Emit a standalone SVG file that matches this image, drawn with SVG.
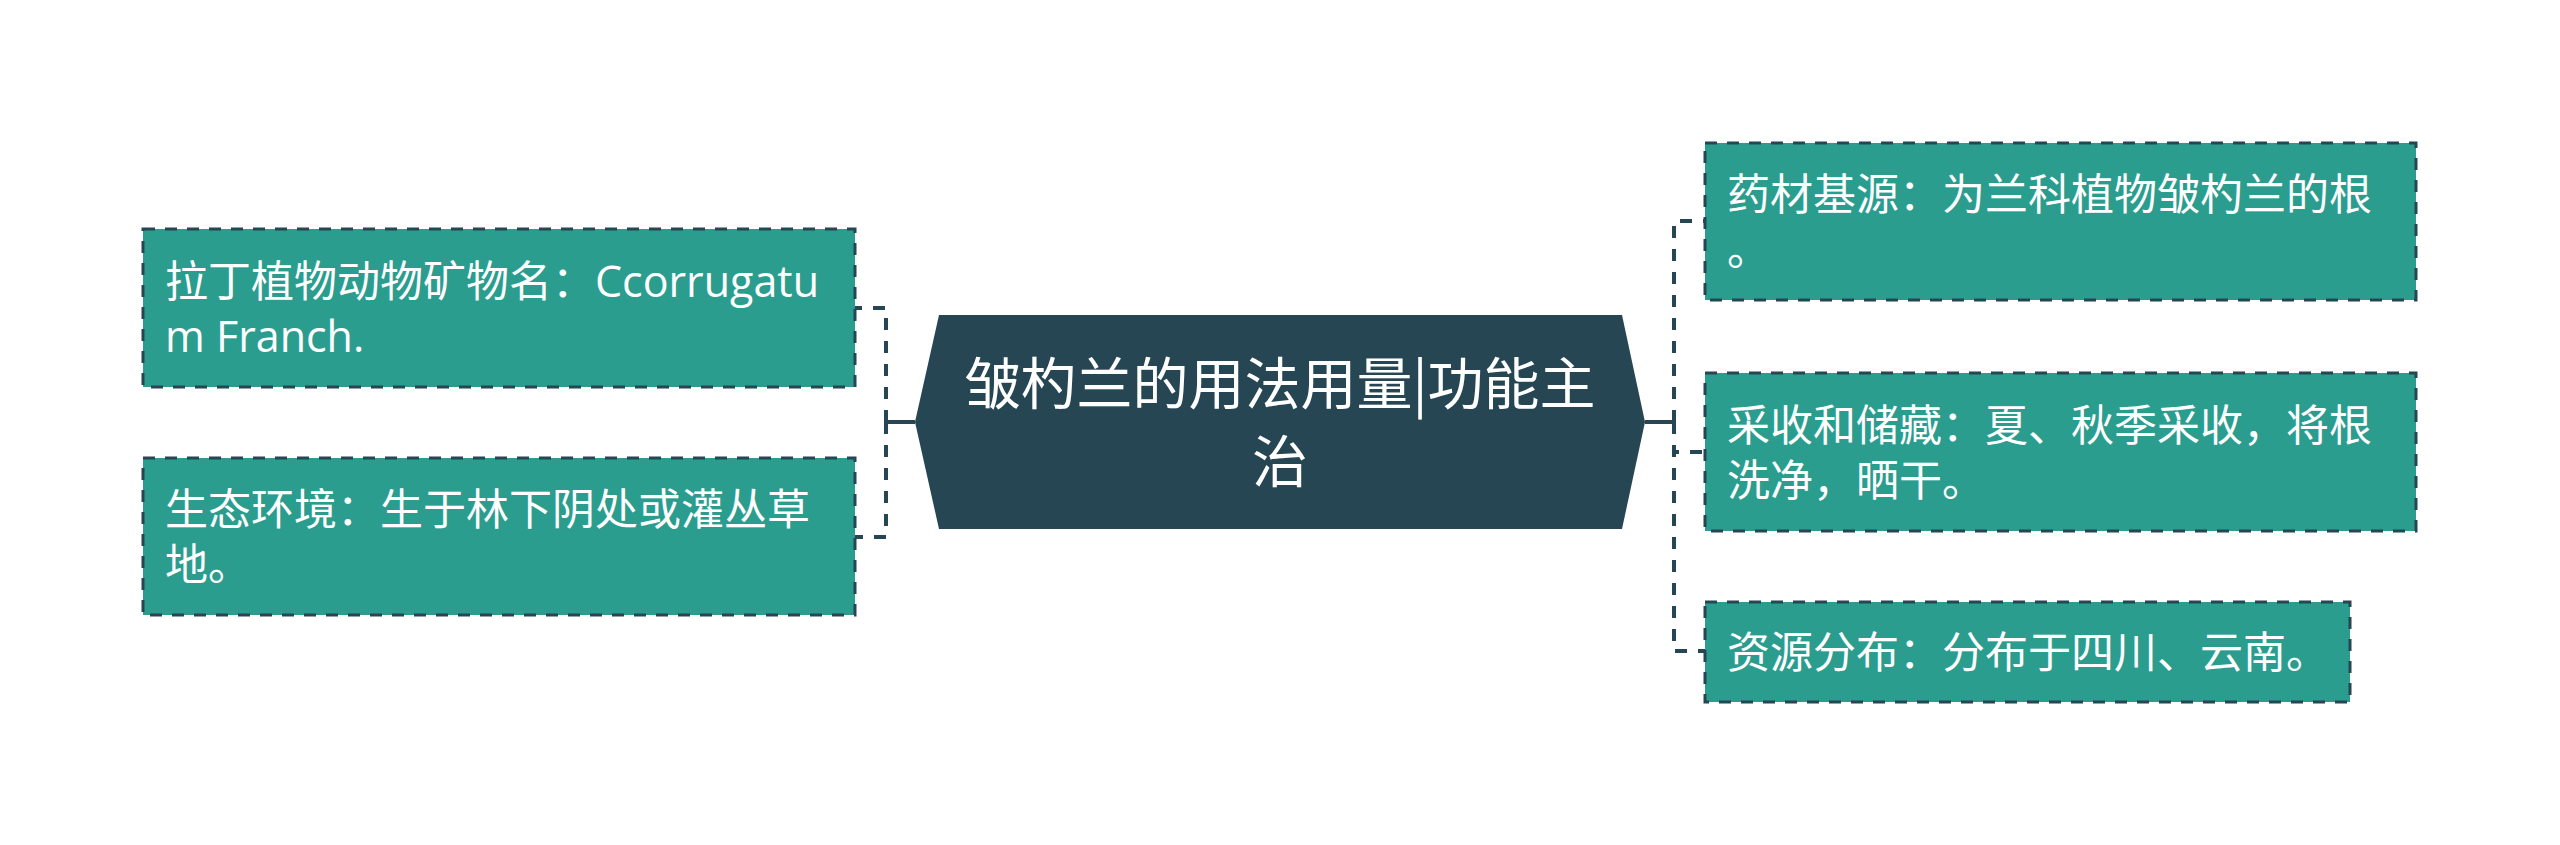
<svg xmlns="http://www.w3.org/2000/svg" width="2560" height="845" viewBox="0 0 2560 845">
<style>
.box{fill:#2a9d8f;stroke:#264653;stroke-width:3;stroke-dasharray:12 10}
.center{fill:#264653}
.t{font-family:"Open Sans","Noto Sans CJK SC",sans-serif;font-size:43px;fill:#ffffff}
.ct{font-family:"Noto Sans CJK SC",sans-serif;font-size:56px;fill:#ffffff;text-anchor:middle}
.dash{fill:none;stroke:#264653;stroke-width:4;stroke-dasharray:12 11}
.solid{fill:none;stroke:#264653;stroke-width:4}
</style>
<rect width="2560" height="845" fill="#ffffff"/>
<g id="connectors">
<path class="dash" d="M886 422 V308 H855"/>
<path class="dash" d="M886 422 V537 H855"/>
<path class="solid" d="M915 422 H886 M886 411 V433"/>
<path class="dash" d="M1674 422 V221 H1705"/>
<path class="dash" d="M1674 422 V452 H1705"/>
<path class="dash" d="M1674 422 V651 H1705"/>
<path class="solid" d="M1645 422 H1674 M1674 411 V433"/>
</g>
<g id="root">
<polygon class="center" points="939,315 1622,315 1645,422 1622,529 939,529 915,422"/>
<text class="ct" x="1280" y="404">皱杓兰的用法用量|功能主</text>
<text class="ct" x="1280" y="482">治</text>
</g>
<g id="node-latin">
<rect class="box" x="143" y="229" width="712" height="158"/>
<text class="t" x="165" y="297">拉丁植物动物矿物名：Ccorrugatu</text>
<text class="t" x="165" y="352">m Franch.</text>
</g>
<g id="node-habitat">
<rect class="box" x="143" y="458" width="712" height="157"/>
<text class="t" x="165" y="525">生态环境：生于林下阴处或灌丛草</text>
<text class="t" x="165" y="580">地。</text>
</g>
<g id="node-source">
<rect class="box" x="1705" y="143" width="711" height="157"/>
<text class="t" x="1727" y="210">药材基源：为兰科植物皱杓兰的根</text>
<text class="t" x="1727" y="265">。</text>
</g>
<g id="node-harvest">
<rect class="box" x="1705" y="373" width="711" height="158"/>
<text class="t" x="1727" y="441">采收和储藏：夏、秋季采收，将根</text>
<text class="t" x="1727" y="496">洗净，晒干。</text>
</g>
<g id="node-distribution">
<rect class="box" x="1705" y="602" width="645" height="100"/>
<text class="t" x="1727" y="668">资源分布：分布于四川、云南。</text>
</g>
</svg>
